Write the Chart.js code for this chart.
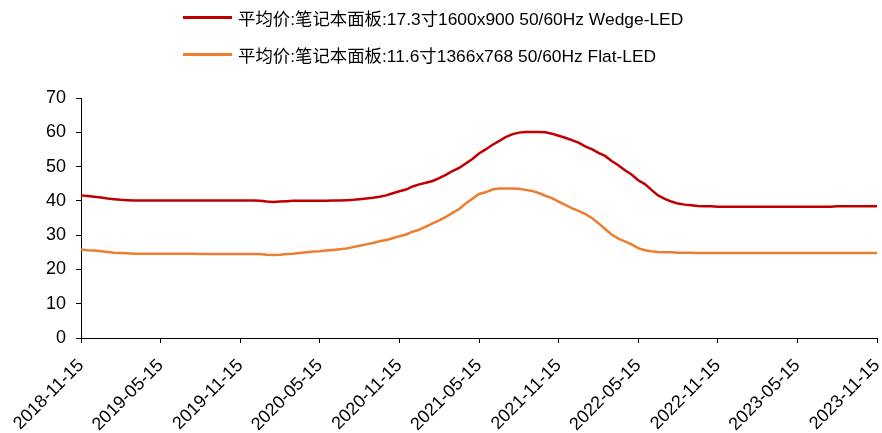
<!DOCTYPE html>
<html>
<head>
<meta charset="utf-8">
<script src="https://cdn.jsdelivr.net/npm/chart.js@4"></script>
<style>
  html, body { margin: 0; padding: 0; background: #fff; }
  #wrap { position: relative; width: 882px; height: 433px; }
  #legend { position: absolute; left: 183px; top: 0; font-family: "Liberation Sans", "Noto Sans CJK SC", sans-serif; font-size: 17.4px; color: #000; }
  .row { position: absolute; left: 0; white-space: nowrap; display: flex; align-items: center; height: 20px; }
  .swatch { width: 49px; height: 3px; margin-right: 6px; }
</style>
</head>
<body>
<div id="wrap">
  <canvas id="chart" width="882" height="433"></canvas>
  <div id="legend"></div>
</div>
<script>
// 半月度数据, 2018-11-15 ~ 2023-11-15
const startYear = 2018, startMonth = 11, halfMonths = 121;
const tickLabels = ['2018-11-15', '2019-05-15', '2019-11-15', '2020-05-15', '2020-11-15',
  '2021-05-15', '2021-11-15', '2022-05-15', '2022-11-15', '2023-05-15', '2023-11-15'];

const seriesNames = [
  '平均价:笔记本面板:17.3寸1600x900 50/60Hz Wedge-LED',
  '平均价:笔记本面板:11.6寸1366x768 50/60Hz Flat-LED'
];

const wedge173 = [
  41.6, 41.4, 41.2, 41.0, 40.7, 40.5, 40.3, 40.2, 40.1, 40.1,
  40.1, 40.1, 40.1, 40.1, 40.1, 40.1, 40.1, 40.1, 40.1, 40.1,
  40.1, 40.1, 40.1, 40.1, 40.1, 40.1, 40.1, 40.0, 39.8, 39.7,
  39.8, 39.9, 40.0, 40.0, 40.0, 40.0, 40.0, 40.0, 40.1, 40.1,
  40.2, 40.3, 40.5, 40.7, 40.9, 41.2, 41.6, 42.2, 42.8, 43.3,
  44.2, 44.8, 45.3, 45.8, 46.6, 47.6, 48.7, 49.6, 50.9, 52.2,
  53.8, 55.0, 56.3, 57.4, 58.6, 59.4, 59.9, 60.1, 60.1, 60.1,
  60.0, 59.6, 59.0, 58.4, 57.7, 57.0, 55.9, 55.1, 54.0, 53.1,
  51.6, 50.4, 48.9, 47.7, 46.0, 44.9, 43.2, 41.6, 40.6, 39.8,
  39.2, 38.9, 38.7, 38.5, 38.4, 38.4, 38.3, 38.3, 38.3, 38.3,
  38.3, 38.3, 38.3, 38.3, 38.3, 38.3, 38.3, 38.3, 38.3, 38.3,
  38.3, 38.3, 38.3, 38.3, 38.4, 38.4, 38.4, 38.4, 38.4, 38.4,
  38.4
];

const flat116 = [
  25.8, 25.6, 25.5, 25.3, 25.1, 24.9, 24.8, 24.7, 24.6, 24.6,
  24.6, 24.6, 24.6, 24.6, 24.6, 24.6, 24.6, 24.6, 24.5, 24.5,
  24.5, 24.5, 24.5, 24.5, 24.5, 24.5, 24.5, 24.5, 24.3, 24.2,
  24.3, 24.5, 24.6, 24.8, 25.0, 25.2, 25.3, 25.5, 25.7, 25.9,
  26.1, 26.5, 26.9, 27.3, 27.7, 28.2, 28.6, 29.1, 29.7, 30.2,
  31.0, 31.6, 32.5, 33.4, 34.3, 35.3, 36.5, 37.6, 39.2, 40.6,
  42.0, 42.5, 43.3, 43.6, 43.6, 43.6, 43.5, 43.2, 42.9, 42.3,
  41.5, 40.8, 39.8, 38.8, 37.9, 37.1, 36.2, 35.0, 33.5, 31.8,
  30.2, 29.0, 28.2, 27.3, 26.2, 25.6, 25.3, 25.1, 25.0, 25.0,
  24.9, 24.9, 24.9, 24.8, 24.8, 24.8, 24.8, 24.8, 24.8, 24.8,
  24.8, 24.8, 24.8, 24.8, 24.8, 24.8, 24.8, 24.8, 24.8, 24.8,
  24.8, 24.8, 24.8, 24.8, 24.8, 24.8, 24.8, 24.8, 24.8, 24.8,
  24.8
];

const colors = ['#C00000', '#ED7D31'];

// 日期标签: 每月15日和月末
const pad = n => String(n).padStart(2, '0');
const categories = [];
for (let i = 0; i < halfMonths; i++) {
  const m0 = startMonth - 1 + Math.floor(i / 2);
  const y = startYear + Math.floor(m0 / 12), m = m0 % 12 + 1;
  const d = i % 2 === 0 ? 15 : new Date(y, m, 0).getDate();
  categories.push(y + '-' + pad(m) + '-' + pad(d));
}

const font = { family: '"Liberation Sans", Arial, sans-serif', size: 18 };

const chart = new Chart(document.getElementById('chart'), {
  type: 'line',
  data: {
    labels: categories,
    datasets: [wedge173, flat116].map((d, i) => ({
      label: seriesNames[i],
      data: d,
      borderColor: colors[i],
      backgroundColor: colors[i],
      borderWidth: 2.5,
      pointRadius: 0,
      tension: 0
    }))
  },
  options: {
    responsive: false,
    animation: false,
    layout: { padding: { top: 98, right: 5, left: 0, bottom: 0 } },
    plugins: { legend: { display: false }, tooltip: { enabled: false } },
    scales: {
      x: {
        afterFit: s => { s.height = 95; s.paddingLeft = 0; s.paddingRight = 0; },
        border: { color: '#000', width: 1 },
        grid: { drawOnChartArea: false, drawTicks: true, tickLength: 5, color: '#000' },
        ticks: {
          color: '#000', font: font, autoSkip: false, maxRotation: 45, minRotation: 45, padding: 12,
          callback: function (v) {
            const lab = this.getLabelForValue(v);
            return tickLabels.includes(lab) ? lab : null;
          }
        }
      },
      y: {
        min: 0, max: 70,
        afterFit: s => { s.width = 81; },
        border: { color: '#000', width: 1 },
        grid: { drawOnChartArea: false, drawTicks: true, tickLength: 5, color: '#000' },
        ticks: { stepSize: 10, color: '#000', font: font, padding: 10 }
      }
    }
  }
});

// 图例 (纵向排列, 左对齐)
const legend = document.getElementById('legend');
seriesNames.forEach((name, i) => {
  const row = document.createElement('div');
  row.className = 'row';
  row.style.top = (7 + i * 37) + 'px';
  row.innerHTML = '<span class="swatch" style="background:' + colors[i] + '"></span><span>' + name + '</span>';
  legend.appendChild(row);
});
</script>
</body>
</html>
